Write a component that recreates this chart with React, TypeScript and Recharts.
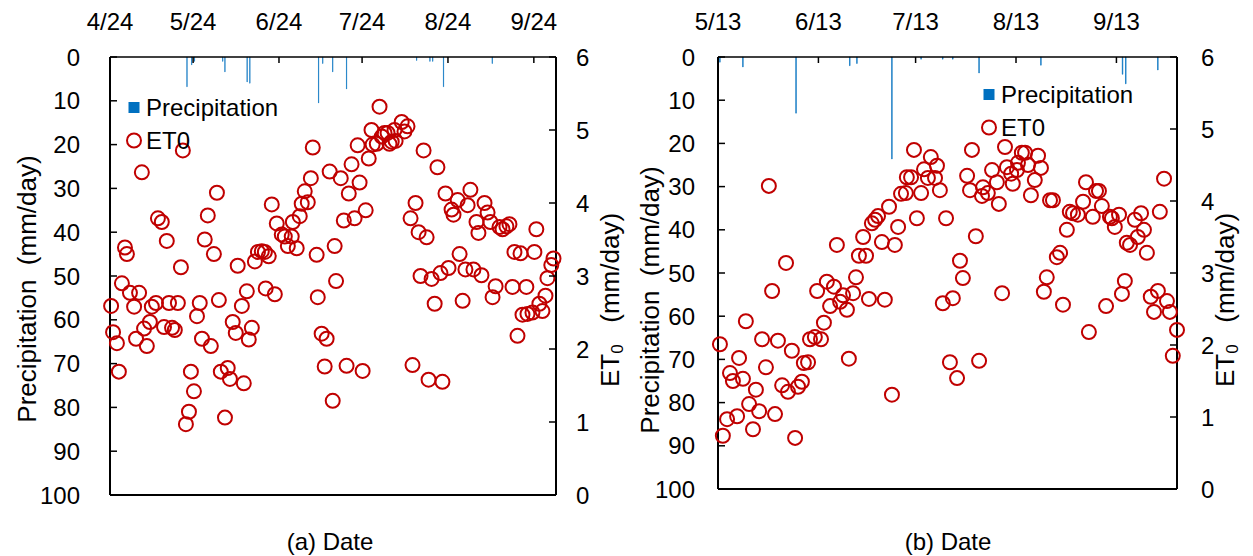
import { ComposedChart, Bar, Scatter, XAxis, YAxis, Legend } from 'recharts'

const FONT = '"Liberation Sans", Arial, sans-serif'
const RED = '#C00000'
const BLUE = '#0070C0'
const FS = 24
const TITLE_FS = 26

// shared axes
const precipTicks = [0, 10, 20, 30, 40, 50, 60, 70, 80, 90, 100]
const et0Ticks = [0, 1, 2, 3, 4, 5, 6]

// (a) day 0 = 4/24
const dateTicksA = [0, 30, 61, 91, 122, 153]
const dateLabelsA = ['4/24', '5/24', '6/24', '7/24', '8/24', '9/24']
const rainA: [number, number][] = [
  [27.8, 6.8], [29.5, 1.8], [30.5, 1.0], [40.7, 1.0], [41.5, 3.4], [49.5, 5.7], [50.5, 6.0],
  [75.3, 10.5], [76.8, 1.5], [80.4, 3.4], [85.4, 7.3], [110.7, 0.8], [115.5, 1.0], [116.5, 1.0],
  [120.4, 6.8], [138.0, 1.5],
]
const et0A: [number, number][] = [
  [0.4, 2.59], [1.1, 2.23], [2.5, 2.08], [3.2, 1.69], [4.3, 2.9], [5.4, 3.39], [6.1, 3.3], [7.2, 2.77],
  [8.7, 2.58], [9.4, 2.14], [10.5, 2.77], [11.5, 4.42], [12.3, 2.28], [13.3, 2.04], [14.4, 2.37],
  [15.1, 2.58], [16.6, 2.63], [17.3, 3.79], [18.7, 3.74], [19.5, 2.3], [20.5, 3.48], [21.3, 2.63],
  [22.4, 2.29], [23.4, 2.26], [24.5, 2.63], [25.6, 3.12], [26.3, 4.72], [27.4, 0.97], [28.5, 1.14],
  [29.2, 1.69], [30.3, 1.42], [31.4, 2.45], [32.4, 2.63], [33.2, 2.14], [34.2, 3.5], [35.3, 3.83],
  [36.4, 2.04], [37.5, 3.3], [38.6, 4.14], [39.3, 2.67], [40.0, 1.69], [41.5, 1.06], [42.5, 1.74],
  [43.3, 1.59], [44.3, 2.37], [45.4, 2.22], [46.1, 3.14], [47.6, 2.59], [48.3, 1.53], [49.4, 2.79],
  [50.1, 2.13], [51.2, 2.29], [52.3, 3.2], [53.4, 3.33], [54.8, 3.34], [55.9, 3.33], [56.2, 2.83],
  [57.3, 3.27], [58.4, 3.98], [59.5, 2.75], [60.2, 3.72], [62.0, 3.57], [63.1, 3.54], [64.2, 3.41],
  [65.6, 3.54], [66.0, 3.74], [67.4, 3.38], [68.5, 3.82], [69.2, 3.99], [70.3, 4.16], [71.4, 4.01],
  [72.5, 4.34], [73.2, 4.76], [74.6, 3.29], [75.0, 2.71], [76.4, 2.21], [77.5, 1.76], [78.2, 2.14],
  [79.3, 4.43], [80.4, 1.29], [81.1, 3.41], [81.6, 2.93], [83.3, 4.34], [84.4, 3.76], [85.4, 1.77],
  [86.2, 4.13], [87.2, 4.53], [88.3, 3.79], [89.4, 4.79], [90.1, 4.28], [91.2, 1.7], [92.3, 3.9],
  [93.4, 4.61], [94.4, 5.0], [94.8, 4.8], [96.3, 4.81], [97.3, 5.32], [98.1, 4.91], [99.1, 4.96],
  [100.2, 4.96], [100.9, 4.81], [101.7, 4.84], [102.7, 5.0], [103.1, 4.85], [105.3, 5.11],
  [106.3, 4.98], [107.4, 5.05], [108.5, 3.79], [109.2, 1.78], [110.3, 4.0], [111.4, 3.6],
  [112.1, 3.0], [113.2, 4.72], [114.3, 3.53], [115.0, 1.58], [116.1, 2.96], [117.2, 2.62],
  [118.2, 4.49], [119.3, 3.04], [120.0, 1.55], [121.1, 4.13], [122.2, 3.11], [123.3, 3.91],
  [124.0, 3.84], [125.5, 4.04], [126.2, 3.3], [127.3, 2.66], [128.3, 3.09], [129.1, 3.97],
  [130.1, 4.18], [131.2, 3.09], [132.3, 3.74], [133.0, 3.59], [134.1, 3.01], [135.2, 4.0],
  [136.3, 3.87], [137.3, 3.74], [138.1, 2.71], [139.2, 2.86], [140.6, 3.67], [141.7, 3.64],
  [143.1, 3.68], [144.2, 3.71], [145.3, 2.85], [146.0, 3.33], [147.1, 2.18], [148.2, 3.31],
  [148.9, 2.47], [150.3, 2.85], [150.7, 2.48], [152.5, 2.5], [153.2, 3.33], [153.9, 3.64],
  [155.0, 2.62], [156.1, 2.52], [157.2, 2.73], [157.9, 2.97], [159.3, 3.15], [160.1, 3.24],
]

// (b) day 0 = 5/13
const dateTicksB = [0, 31, 61, 92, 123]
const dateLabelsB = ['5/13', '6/13', '7/13', '8/13', '9/13']
const rainB: [number, number][] = [
  [0.6, 1.2], [7.7, 2.3], [24.1, 13.0], [40.7, 2.0], [42.9, 1.5], [53.7, 23.6], [62.7, 0.5],
  [69.4, 0.5], [72.5, 0.5], [80.6, 3.7], [99.7, 1.9], [124.9, 4.0], [125.9, 6.2], [135.8, 3.0],
]
const et0B: [number, number][] = [
  [0.6, 2.01], [1.5, 0.74], [2.8, 0.97], [3.7, 1.61], [4.6, 1.5], [5.9, 1.01], [6.5, 1.82], [7.7, 1.53],
  [8.6, 2.33], [9.6, 1.18], [10.8, 0.83], [11.7, 1.38], [12.7, 1.08], [13.6, 2.08], [14.8, 1.69],
  [15.7, 4.21], [16.7, 2.75], [17.6, 1.04], [18.5, 2.06], [19.8, 1.44], [21.0, 3.14], [21.6, 1.35],
  [22.8, 1.92], [23.8, 0.71], [24.7, 1.42], [25.9, 1.49], [26.5, 1.75], [27.8, 1.76], [28.4, 2.08],
  [29.9, 2.11], [30.6, 2.75], [31.8, 2.08], [32.7, 2.31], [33.6, 2.88], [34.6, 2.54], [35.8, 2.81],
  [36.7, 3.39], [37.7, 2.6], [38.6, 2.69], [39.8, 2.49], [40.4, 1.81], [41.7, 2.72], [42.6, 2.94],
  [43.5, 3.24], [44.8, 3.5], [45.7, 3.24], [46.6, 2.64], [47.5, 3.69], [48.5, 3.74], [49.4, 3.79],
  [50.6, 3.43], [51.5, 2.63], [52.8, 3.92], [53.7, 1.31], [54.6, 3.39], [55.6, 3.64], [56.5, 4.1],
  [58.0, 4.11], [58.3, 4.33], [59.6, 4.33], [60.5, 4.71], [61.4, 3.76], [62.7, 4.11], [63.6, 4.44],
  [64.8, 4.32], [65.7, 4.61], [67.0, 4.32], [67.6, 4.49], [68.5, 4.15], [69.4, 2.58], [70.4, 3.76],
  [71.6, 1.76], [72.5, 2.65], [73.8, 1.54], [74.7, 3.17], [75.6, 2.93], [76.9, 4.35], [77.8, 4.15],
  [78.4, 4.71], [79.6, 3.51], [80.6, 1.78], [81.5, 4.07], [81.8, 4.19], [83.3, 4.11], [84.6, 4.43],
  [86.1, 4.26], [86.7, 3.96], [87.7, 2.72], [88.6, 4.75], [89.2, 4.47], [90.5, 4.38], [91.0, 4.24],
  [92.3, 4.43], [92.6, 4.53], [93.8, 4.67], [94.8, 4.67], [95.7, 4.5], [96.6, 4.08], [97.8, 4.29],
  [98.8, 4.63], [99.7, 4.46], [100.6, 2.74], [101.5, 2.94], [102.5, 4.01], [103.4, 4.01],
  [104.6, 3.22], [105.6, 3.28], [106.5, 2.56], [107.7, 3.6], [108.6, 3.85], [109.6, 3.83],
  [111.1, 3.81], [112.7, 3.99], [113.6, 4.26], [114.5, 2.18], [115.7, 3.78], [116.7, 4.14],
  [117.6, 4.14], [118.5, 3.93], [119.8, 2.54], [121.0, 3.78], [121.6, 3.76], [122.5, 3.64],
  [123.8, 3.81], [124.7, 2.71], [125.6, 2.89], [126.2, 3.42], [127.2, 3.39], [128.7, 3.74],
  [129.6, 3.5], [130.6, 3.83], [131.5, 3.6], [132.4, 3.28], [133.6, 2.67], [134.6, 2.46],
  [135.8, 2.75], [136.4, 3.85], [137.7, 4.31], [138.6, 2.61], [139.5, 2.46], [140.4, 1.85],
  [141.7, 2.21],
]

const txt = { fontFamily: FONT, fontSize: FS, fill: '#000' }

function Ring(p: any) {
  if (p.cx == null || p.cy == null) return null
  return <circle cx={p.cx} cy={p.cy} r={7} fill="none" stroke={RED} strokeWidth={2} />
}

// vertical axis title, placed at (px, py) in chart coordinates
function vTitle(px: number, py: number, sub: boolean) {
  return (
    <text {...txt} fontSize={TITLE_FS} transform={`translate(${px},${py}) rotate(-90)`} textAnchor="middle" dominantBaseline="central">
      {sub ? (
        <>
          ET<tspan fontSize={17} dy={7}>0</tspan>
          <tspan dy={-7}>{'\u00a0\u00a0\u00a0(mm/day)'}</tspan>
        </>
      ) : (
        'Precipitation\u00a0\u00a0(mm/day)'
      )}
    </text>
  )
}

function caption(px: number, py: number, value: string) {
  return (
    <text {...txt} x={px} y={py} textAnchor="middle" dominantBaseline="central">{value}</text>
  )
}

interface PanelProps {
  left: number
  width: number
  margin: { top: number; right: number; bottom: number; left: number }
  leftW: number
  rightW: number
  xMax: number
  dateTicks: number[]
  dateLabels: string[]
  rain: [number, number][]
  et0: [number, number][]
  caption: string
  captionX: number
  leftTitleX: number
  leftTitleY: number
  rightTitleX: number
  leftGap: number
  rightGap: number
  legendLeft: number
  legendTop: number
}

function Panel(props: PanelProps) {
  const { dateTicks, dateLabels } = props
  const rainData = props.rain.map(([d, p]) => ({ d, p }))
  const etData = props.et0.map(([d, v]) => ({ d, v }))

  const topTick = (p: any) => {
    const i = dateTicks.indexOf(p.payload.value)
    return (
      <g>
        <line x1={p.x} y1={p.y} x2={p.x} y2={p.y + 6} stroke="#000" strokeWidth={1.5} />
        <text {...txt} x={p.x} y={p.y - 36} textAnchor="middle" dominantBaseline="central">{dateLabels[i]}</text>
      </g>
    )
  }
  const leftTick = (p: any) => (
    <g>
      <line x1={p.x} y1={p.y} x2={p.x + 7} y2={p.y} stroke="#000" strokeWidth={1.5} />
      <text {...txt} x={p.x - props.leftGap} y={p.y} textAnchor="end" dominantBaseline="central">{p.payload.value}</text>
    </g>
  )
  const rightTick = (p: any) => (
    <g>
      <line x1={p.x} y1={p.y} x2={p.x - 7} y2={p.y} stroke="#000" strokeWidth={1.5} />
      <text {...txt} x={p.x + props.rightGap} y={p.y} textAnchor="start" dominantBaseline="central">{p.payload.value}</text>
    </g>
  )

  const legend = () => (
    <div style={{ fontFamily: FONT, fontSize: FS, color: '#000', lineHeight: '33px' }}>
      <div style={{ display: 'flex', alignItems: 'center', height: 33 }}>
        <svg width={16} height={33} style={{ overflow: 'visible' }}>
          <rect x={2.5} y={11} width={11} height={11} fill={BLUE} />
        </svg>
        <span style={{ marginLeft: 4 }}>Precipitation</span>
      </div>
      <div style={{ display: 'flex', alignItems: 'center', height: 33 }}>
        <svg width={16} height={33} style={{ overflow: 'visible' }}>
          <circle cx={8} cy={16.5} r={7} fill="none" stroke={RED} strokeWidth={2} />
        </svg>
        <span style={{ marginLeft: 4 }}>ET0</span>
      </div>
    </div>
  )

  return (
    <div style={{ position: 'absolute', left: props.left, top: 0 }}>
      <ComposedChart width={props.width} height={556} data={rainData} margin={props.margin}>
        <XAxis
          xAxisId="top"
          orientation="top"
          type="number"
          dataKey="d"
          domain={[0, props.xMax]}
          ticks={dateTicks}
          interval={0}
          height={47}
          tickSize={0}
          tickMargin={0}
          tickLine={false}
          tick={topTick}
          axisLine={{ stroke: '#000', strokeWidth: 1.5 }}
        />
        <XAxis
          xAxisId="bot"
          orientation="bottom"
          type="number"
          dataKey="d"
          domain={[0, props.xMax]}
          height={1}
          tick={false}
          tickLine={false}
          axisLine={{ stroke: '#000', strokeWidth: 2 }}
          label={{ content: () => caption(props.captionX, 541, props.caption) }}
        />
        <YAxis
          yAxisId="p"
          orientation="left"
          type="number"
          domain={[0, 100]}
          reversed
          ticks={precipTicks}
          interval={0}
          width={props.leftW}
          tickSize={0}
          tickMargin={0}
          tickLine={false}
          tick={leftTick}
          axisLine={{ stroke: '#000', strokeWidth: 2 }}
          label={{ content: () => vTitle(props.leftTitleX, props.leftTitleY, false) }}
        />
        <YAxis
          yAxisId="e"
          orientation="right"
          type="number"
          domain={[0, 6]}
          ticks={et0Ticks}
          interval={0}
          width={props.rightW}
          tickSize={0}
          tickMargin={0}
          tickLine={false}
          tick={rightTick}
          axisLine={{ stroke: '#000', strokeWidth: 2 }}
          label={{ content: () => vTitle(props.rightTitleX, 300, true) }}
        />
        <Bar
          xAxisId="top"
          yAxisId="p"
          dataKey="p"
          fill={BLUE}
          stroke={BLUE}
          strokeWidth={0.6}
          barSize={1.5}
          isAnimationActive={false}
        />
        <Scatter xAxisId="top" yAxisId="e" data={etData} dataKey="v" shape={Ring} isAnimationActive={false} />
        <Legend
          layout="horizontal"
          verticalAlign="middle"
          align="center"
          content={legend}
          wrapperStyle={{ left: props.legendLeft, top: props.legendTop, width: 'auto' }}
        />
      </ComposedChart>
    </div>
  )
}

export default function App() {
  return (
    <div style={{ position: 'absolute', left: 0, top: 0, width: 1253, height: 556, background: '#fff' }}>
      <Panel
        left={0}
        width={640}
        margin={{ top: 10, right: 24, bottom: 60, left: 30 }}
        leftW={80}
        rightW={60}
        xMax={161}
        dateTicks={dateTicksA}
        dateLabels={dateLabelsA}
        rain={rainA}
        et0={et0A}
        caption="(a) Date"
        captionX={330}
        leftTitleX={27}
        leftTitleY={289}
        rightTitleX={610}
        leftGap={30}
        rightGap={20}
        legendLeft={126}
        legendTop={91}
      />
      <Panel
        left={630}
        width={623}
        margin={{ top: 10, right: 16, bottom: 66, left: 26 }}
        leftW={62}
        rightW={60}
        xMax={141.7}
        dateTicks={dateTicksB}
        dateLabels={dateLabelsB}
        rain={rainB}
        et0={et0B}
        caption="(b) Date"
        captionX={318}
        leftTitleX={20}
        leftTitleY={300}
        rightTitleX={595}
        leftGap={23}
        rightGap={24}
        legendLeft={351}
        legendTop={78}
      />
    </div>
  )
}
